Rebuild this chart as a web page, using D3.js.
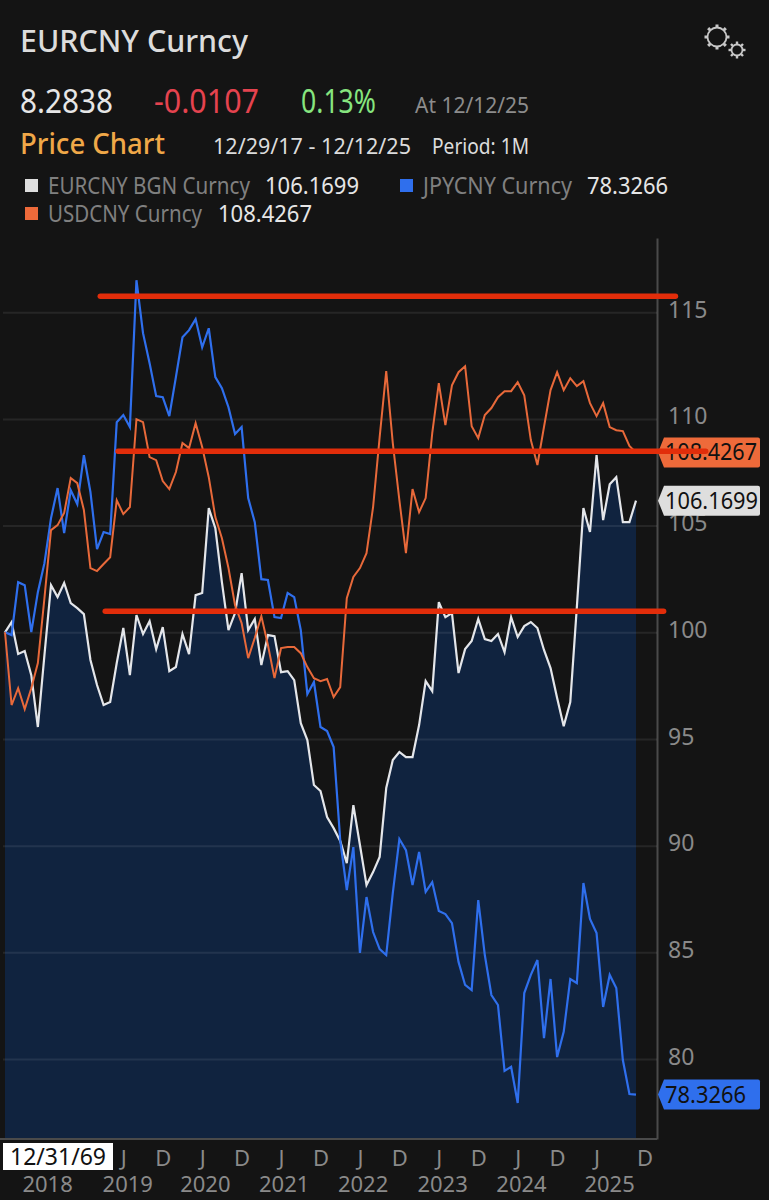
<!DOCTYPE html>
<html>
<head>
<meta charset="utf-8">
<script src="https://cdn.jsdelivr.net/npm/d3@7"></script>
<style>
html, body { margin: 0; background: #141414; }
svg { display: block; font-family: "Noto Sans", sans-serif; }
</style>
</head>
<body>
<svg id="chart" width="769" height="1200"></svg>
<script>
// monthly, rebased to 100 at 12/29/17
var eurcny = [100,100.48,98.98,99.12,97.99,95.56,98.93,102.21,101.65,102.31,101.37,101.13,100.85,98.70,97.53,96.59,96.73,98.56,100.20,97.99,100.81,99.92,100.52,99.21,100.24,98.18,98.37,99.92,98.98,101.74,101.84,105.82,104.88,102.35,100.10,100.90,102.77,100.10,100.62,98.46,99.87,99.82,98.13,98.18,97.76,95.74,94.95,92.84,92.56,91.34,90.82,90.22,89.18,91.90,90.03,88.15,88.76,89.47,92.70,94.01,94.39,94.15,94.15,95.65,97.71,97.24,101.41,100.71,100.90,98.09,99.21,99.59,100.62,99.68,99.59,99.92,99.07,100.71,99.78,100.29,100.48,100.20,99.17,98.32,96.92,95.60,96.73,101.18,105.82,104.70,108.30,105.26,106.94,107.27,105.16,105.16,106.17];
var jpycny = [100,99.87,102.35,102.21,100.01,101.88,103.24,105.35,106.76,104.65,106.66,106.01,108.30,106.57,103.90,104.70,104.60,109.85,110.18,109.62,116.50,114.02,112.61,111.07,111.02,110.13,111.96,113.83,114.16,114.68,113.36,114.25,111.96,111.44,110.55,109.29,109.62,106.29,105.16,102.49,102.45,100.71,100.67,101.84,101.65,100.10,97.10,97.67,95.56,95.37,94.62,90.26,87.92,89.93,84.97,87.59,85.95,85.15,84.87,87.78,90.31,89.79,88.15,89.70,87.83,88.29,86.94,86.79,86.37,84.55,83.47,83.23,87.45,84.87,83.00,82.53,79.44,79.63,77.94,83.09,83.94,84.64,80.98,83.75,80.09,81.27,83.75,83.56,88.25,86.56,85.90,82.44,83.94,83.33,79.95,78.36,78.33];
var usdcny = [100,96.59,97.38,96.40,97.38,98.56,101.60,104.79,105.02,105.59,107.23,106.99,105.73,103.01,102.87,103.20,103.52,106.19,105.54,105.87,109.99,109.85,108.21,108.07,107.09,106.71,107.51,108.87,108.63,109.80,108.68,107.27,105.40,104.41,103.01,101.27,100.43,98.79,99.73,100.76,99.40,97.85,99.26,99.31,99.31,99.02,98.37,97.85,97.71,97.81,96.96,97.43,101.60,102.59,103.01,103.71,105.87,109.15,112.24,108.87,106.19,103.71,106.71,105.63,106.29,109.33,111.68,109.71,111.58,112.19,112.47,109.66,109.10,110.18,110.51,111.02,111.30,111.30,111.72,111.11,109.01,107.84,109.62,111.35,112.19,111.35,111.91,111.54,111.77,110.74,110.13,110.74,109.62,109.47,109.43,108.73,108.43];
var yTicks = [80,85,90,95,100,105,110,115];
var monthTicks = [18,24,30,36,42,48,54,60,66,72,78,84,90,97.3];
var monthLabels = ['J','D','J','D','J','D','J','D','J','D','J','D','J','D'];
var yearTicks = [6.4,18.6,30.4,42.4,54.4,66.5,78.5,91.9];
var yearLabels = ['2018','2019','2020','2021','2022','2023','2024','2025'];
// hand drawn levels: value, first month, last month
var levelValues = [115.75,108.49,100.99];
var levelStart = [14.5,17.2,15.25];
var levelEnd = [102,106.6,100.2];

var svg = d3.select('#chart');
var x = d3.scaleLinear().domain([0,96]).range([5,636]);
var y = d3.scaleLinear().domain([76.25,118.48]).range([1139,238]);

function label(txt, x0, x1, base, size, color, weight) {
    return svg.append('text')
        .attr('x', x0).attr('y', base)
        .attr('textLength', x1 - x0).attr('lengthAdjust', 'spacingAndGlyphs')
        .attr('font-size', size).attr('fill', color)
        .attr('font-weight', weight || 400)
        .text(txt);
}

// header
label('EURCNY Curncy', 20, 248, 52, 30, '#dcdcdc', 500);
label('8.2838', 20, 113, 113, 32, '#e6e6e6');
label('-0.0107', 154, 259, 113, 32, '#e5434f');
label('0.13%', 301, 376, 113, 32, '#86e57f');
label('At 12/12/25', 415, 529, 113, 21, '#8c8c8c');
label('Price Chart', 20, 165, 154, 28, '#f0a848', 500);
label('12/29/17 - 12/12/25', 213, 411, 154, 22, '#dcdcdc');
label('Period: 1M', 432, 529, 154, 22, '#dcdcdc');

// legend
var swatches = [[25,179,'#dedede'],[400,179,'#2f6fed'],[25,207,'#ee6a3a']];
swatches.forEach(function(s) {
    svg.append('rect').attr('x', s[0]).attr('y', s[1]).attr('width', 13).attr('height', 13).attr('fill', s[2]);
});
label('EURCNY BGN Curncy', 48, 250, 194, 23, '#808080');
label('106.1699', 265, 359, 194, 23, '#e6e6e6');
label('JPYCNY Curncy', 423, 572, 194, 23, '#808080');
label('78.3266', 587, 668, 194, 23, '#e6e6e6');
label('USDCNY Curncy', 48, 202, 222, 23, '#808080');
label('108.4267', 218, 312, 222, 23, '#e6e6e6');

// gear icon
function gear(cx, cy, r, teeth, tw) {
    var g = svg.append('g').attr('transform', 'translate(' + cx + ',' + cy + ')')
        .attr('fill', 'none').attr('stroke', '#c8c8c8');
    g.append('circle').attr('r', r).attr('stroke-width', 1.8);
    d3.range(teeth).forEach(function(i) {
        var a = i / teeth * 2 * Math.PI;
        g.append('line')
            .attr('x1', Math.cos(a) * r).attr('y1', Math.sin(a) * r)
            .attr('x2', Math.cos(a) * (r + 3)).attr('y2', Math.sin(a) * (r + 3))
            .attr('stroke-width', tw);
    });
}
gear(717, 37, 9.5, 8, 3);
gear(737, 50, 5.5, 8, 2.4);

// area under the base series
var area = d3.area().x(function(d,i){return x(i)}).y0(y.range()[0]).y1(function(d){return y(d)});
svg.append('path').datum(eurcny).attr('d', area).attr('fill', '#10233f');

// y axis + grid
var yAxis = svg.append('g').attr('transform', 'translate(657,0)')
    .call(d3.axisRight(y).tickValues(yTicks).tickSize(-654).tickSizeOuter(0).tickPadding(11).tickFormat(d3.format('d')));
yAxis.select('.domain').attr('stroke', '#4a4a4a').attr('stroke-width', 2);
yAxis.selectAll('.tick line').attr('stroke', 'rgba(255,255,255,0.08)').attr('stroke-width', 2);
yAxis.selectAll('.tick text').attr('fill', '#8a8a8a').attr('font-size', 23).attr('font-family', '"Noto Sans", sans-serif').attr('dy', '0.22em');

// x axis
svg.append('line').attr('x1', 0).attr('x2', 657).attr('y1', 1139).attr('y2', 1139).attr('stroke', '#4a4a4a').attr('stroke-width', 2);
var mAxis = svg.append('g').attr('transform', 'translate(0,1139)')
    .call(d3.axisBottom(x).tickValues(monthTicks).tickSize(0).tickPadding(11).tickFormat(function(d,i){return monthLabels[i]}));
var yrAxis = svg.append('g').attr('transform', 'translate(0,1139)')
    .call(d3.axisBottom(x).tickValues(yearTicks).tickSize(0).tickPadding(37).tickFormat(function(d,i){return yearLabels[i]}));
[mAxis, yrAxis].forEach(function(a) {
    a.select('.domain').remove();
    a.selectAll('.tick text').attr('fill', '#8a8a8a').attr('font-size', 22).attr('font-family', '"Noto Sans", sans-serif');
});

// series
var line = d3.line().x(function(d,i){return x(i)}).y(function(d){return y(d)});
[[eurcny,'#e4e6ea',2.2],[jpycny,'#2f6fed',2.2],[usdcny,'#e8693a',2]].forEach(function(s) {
    svg.append('path').datum(s[0]).attr('d', line).attr('fill', 'none')
        .attr('stroke', s[1]).attr('stroke-width', s[2]).attr('stroke-linejoin', 'miter');
});

// last value tags
var tags = [
    {v: usdcny[96], t: '108.4267', c: '#ee6a3a', x1: 757},
    {v: eurcny[96], t: '106.1699', c: '#dedede', x1: 758},
    {v: jpycny[96], t: '78.3266', c: '#2f6fed', x1: 746}
];
tags.forEach(function(d) {
    var cy = y(d.v);
    svg.append('path')
        .attr('d', 'M658,' + cy + 'L664,' + (cy - 15) + 'H758q2,0 2,2V' + (cy + 13) + 'q0,2 -2,2H664Z')
        .attr('fill', d.c);
    label(d.t, 665, d.x1, cy + 8, 24, '#111');
});

// drawn levels
svg.selectAll('.level').data(levelValues).enter().append('line')
    .attr('class', 'level')
    .attr('x1', function(d,i){return x(levelStart[i])})
    .attr('x2', function(d,i){return x(levelEnd[i])})
    .attr('y1', function(d){return y(d)})
    .attr('y2', function(d){return y(d)})
    .attr('stroke', '#e22d0a').attr('stroke-width', 5.5).attr('stroke-linecap', 'round');

// crosshair date box
svg.append('rect').attr('x', 3).attr('y', 1143).attr('width', 110).attr('height', 27).attr('fill', '#fff');
label('12/31/69', 10, 106, 1165, 24, '#111');
</script>
</body>
</html>
